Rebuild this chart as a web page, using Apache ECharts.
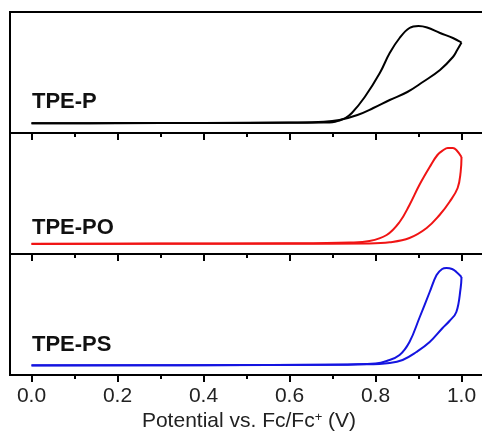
<!DOCTYPE html>
<html>
<head>
<meta charset="utf-8">
<script src="https://cdn.jsdelivr.net/npm/echarts@6/dist/echarts.min.js"></script>
<style>
html,body{margin:0;padding:0;background:#fff;}
#chart{width:482px;height:432px;}
</style>
</head>
<body>
<div id="chart"></div>
<script>
// ---- Data (potential in V vs Fc/Fc+, current in arbitrary units) ----
// TPE-P
const potentialPFwd = [0.00,0.20,0.40,0.60,0.68,0.70,0.716,0.73,0.745,0.775,0.81,0.833,0.856,0.879,0.90,0.92,0.95,0.98,1.00];
const currentPFwd   = [0.97,0.98,1.00,1.02,1.05,1.08,1.25,1.5,2.0,3.6,6.0,8.0,9.5,10.5,10.7,10.55,10.0,9.5,9.05];
const potentialPRev = [1.00,0.99,0.98,0.95,0.91,0.874,0.833,0.795,0.758,0.716,0.68,0.60,0.40,0.20,0.00];
const currentPRev   = [9.05,8.3,7.6,6.3,5.1,4.1,3.3,2.5,1.8,1.3,1.12,1.05,1.0,0.99,0.98];
// TPE-PO
const potentialPOFwd = [0.00,0.30,0.60,0.74,0.786,0.826,0.856,0.879,0.902,0.926,0.944,0.958,0.968,0.98,0.988,1.00];
const currentPOFwd   = [1.02,1.04,1.07,1.15,1.3,1.9,3.2,4.9,6.9,8.7,9.9,10.4,10.6,10.6,10.4,9.7];
const potentialPORev = [1.00,0.998,0.991,0.972,0.949,0.919,0.879,0.833,0.786,0.60,0.30,0.00];
const currentPORev   = [9.7,8.2,6.6,5.2,3.9,2.6,1.6,1.17,1.05,1.03,1.02,1.01];
// TPE-PS
const potentialPSFwd = [0.00,0.40,0.70,0.80,0.826,0.856,0.879,0.902,0.926,0.942,0.955,0.965,0.978,0.988,1.00];
const currentPSFwd   = [0.95,0.98,1.02,1.15,1.4,2.0,3.3,5.7,8.3,10.0,10.6,10.7,10.6,10.3,9.8];
const potentialPSRev = [1.00,0.998,0.988,0.972,0.956,0.926,0.895,0.863,0.833,0.78,0.50,0.00];
const currentPSRev   = [9.8,8.7,6.3,5.4,4.7,3.3,2.3,1.5,1.2,1.07,1.0,0.97];

const seriesNames = ['TPE-P','TPE-PO','TPE-PS'];
const seriesColors = ['#000000','#f01414','#1414e0'];
const majorTicks = [0.0,0.2,0.4,0.6,0.8,1.0];
const minorTicks = [0.1,0.3,0.5,0.7,0.9];
const xAxisName = 'Potential vs. Fc/Fc';

const xMin = -0.05, xMax = 1.0616;
const yMin = 0, yMax = 12.1;

const scans = [
  [[potentialPFwd, currentPFwd], [potentialPRev, currentPRev]],
  [[potentialPOFwd, currentPOFwd], [potentialPORev, currentPORev]],
  [[potentialPSFwd, currentPSFwd], [potentialPSRev, currentPSRev]]
];

const panelTops = [12, 133, 254];
const panelHeight = 121;
const labelCenters = [102, 228, 345];
const font = 'Liberation Sans, Arial, sans-serif';

const grids = [], xAxes = [], yAxes = [], series = [], graphics = [];
for (let i = 0; i < 3; i++) {
  const isBottom = i === 2;
  grids.push({
    left: 10, width: 478, top: panelTops[i], height: panelHeight,
    outerBoundsMode: 'none', containLabel: false,
    show: true, borderColor: '#000', borderWidth: 2, backgroundColor: 'transparent'
  });
  xAxes.push({
    type: 'value', gridIndex: i, min: xMin, max: xMax, position: 'bottom',
    axisLine: { show: false },
    splitLine: { show: false },
    axisTick: { show: true, inside: false, length: 7, customValues: majorTicks,
      lineStyle: { color: '#000', width: 2 } },
    axisLabel: { show: isBottom, customValues: majorTicks, margin: 11,
      fontFamily: font, fontSize: 21, color: '#222',
      formatter: v => v.toFixed(1) },
    name: isBottom ? xAxisName + '{sup|+} (V)' : '',
    nameLocation: 'middle', nameGap: 36,
    nameTextStyle: {
      fontFamily: font, fontSize: 21, color: '#222',
      rich: { sup: { fontSize: 13, verticalAlign: 'top', padding: [0,0,8,0], color: '#222', fontFamily: font } }
    }
  });
  xAxes.push({
    type: 'value', gridIndex: i, min: xMin, max: xMax, position: 'bottom',
    axisLine: { show: false },
    splitLine: { show: false },
    axisTick: { show: true, inside: false, length: 4, customValues: minorTicks,
      lineStyle: { color: '#000', width: 2 } },
    axisLabel: { show: false }
  });
  yAxes.push({
    type: 'value', gridIndex: i, min: yMin, max: yMax,
    axisLine: { show: false }, axisTick: { show: false },
    axisLabel: { show: false }, splitLine: { show: false }
  });
  scans[i].forEach(([xs, ys], s) => {
    series.push({
      type: 'line', name: seriesNames[i] + (s === 0 ? ' forward' : ' reverse'),
      xAxisIndex: i * 2, yAxisIndex: i,
      data: xs.map((x, k) => [x, ys[k]]),
      showSymbol: false, smooth: 0.4,
      lineStyle: { color: seriesColors[i], width: 2, join: 'round' },
      itemStyle: { color: seriesColors[i] },
      animation: false
    });
  });
  graphics.push({
    type: 'text', left: 32, top: labelCenters[i] - 11,
    style: { text: seriesNames[i], fontFamily: font,
      fontWeight: 'bold', fontSize: 22, fill: '#111' }
  });
}

const chart = echarts.init(document.getElementById('chart'), null, { renderer: 'canvas' });
chart.setOption({
  animation: false,
  backgroundColor: '#fff',
  grid: grids,
  xAxis: xAxes,
  yAxis: yAxes,
  series: series,
  graphic: graphics
});
</script>
</body>
</html>
